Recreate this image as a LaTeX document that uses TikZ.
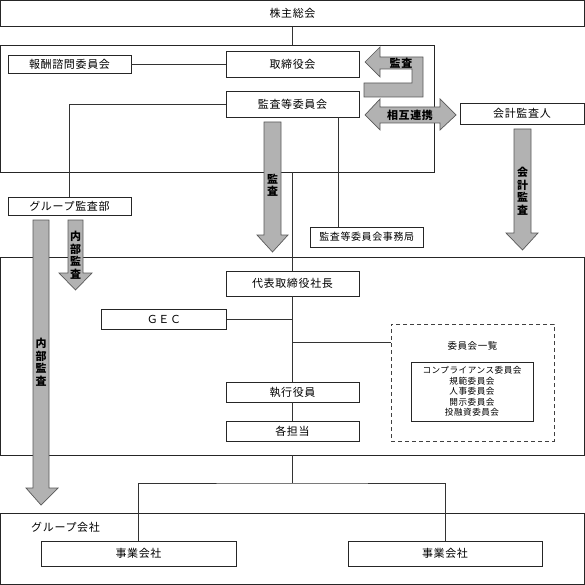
\documentclass[tikz,border=0pt]{standalone}
\usepackage{fontspec}
\setmainfont{Noto Sans CJK JP}[LetterSpace=6]
\usetikzlibrary{calc}
\tikzset{
  box/.style={draw=black!85, line width=0.8pt, fill=white, inner sep=0pt, font=\fontsize{11}{13}\selectfont},
  frame/.style={draw=black!85, line width=0.8pt, inner sep=0pt},
  dframe/.style={draw=black!75, line width=0.8pt, inner sep=0pt, dash pattern=on 4pt off 3pt},
  conn/.style={draw=black!80, line width=0.7pt},
  garrow/.style={fill=black!30, draw=black!65, line width=0.7pt, line join=miter},
  alabel/.style={font=\fontsize{11}{12.5}\selectfont\bfseries, align=center, inner sep=0pt},
  plain/.style={inner sep=0pt},
}
\begin{document}
\begin{tikzpicture}[x=1pt,y=-1pt]
\useasboundingbox (0,0) rectangle (585,585);
% frames
\node[frame, minimum width=433.5pt, minimum height=126.5pt] (board) at (217.25,108.75) {};
\node[frame, minimum width=584pt, minimum height=198pt] (exec) at (292.5,356) {};
\node[frame, minimum width=584pt, minimum height=71.5pt] (grp) at (292.5,548.75) {};
\node[dframe, minimum width=163pt, minimum height=117pt] (dash) at (472.5,382.5) {};
% boxes
\node[box, minimum width=584pt, minimum height=26pt] (kabu) at (292.5,13.5) {株主総会};
\node[box, minimum width=123pt, minimum height=18pt] (hoshu) at (69.5,64) {報酬諮問委員会};
\node[box, minimum width=133pt, minimum height=26pt] (tori) at (292.5,64) {取締役会};
\node[box, minimum width=133pt, minimum height=26pt] (kansa) at (292.5,104) {監査等委員会};
\node[box, minimum width=123pt, minimum height=18pt] (gkb) at (69.5,206) {グループ監査部};
\node[box, minimum width=113.5pt, minimum height=20pt, font=\fontsize{10}{12}\selectfont] (jim) at (366.75,237) {監査等委員会事務局};
\node[box, minimum width=124pt, minimum height=21pt] (kaikei) at (522,113.5) {会計監査人};
\node[box, minimum width=133pt, minimum height=25pt] (daihyo) at (292.5,283.5) {代表取締役社長};
\node[box, minimum width=125pt, minimum height=20pt] (gec) at (164,319) {ＧＥＣ};
\node[plain, font=\fontsize{9.5}{11}\selectfont] (ichiran) at (472.5,346) {委員会一覧};
\node[box, minimum width=122pt, minimum height=59pt, align=center, font=\fontsize{8.6}{10.5}\selectfont] (list) at (472,391.5) {コンプライアンス委員会\\規範委員会\\人事委員会\\開示委員会\\投融資委員会};
\node[box, minimum width=133pt, minimum height=20pt] (shikko) at (292.5,392) {執行役員};
\node[box, minimum width=133pt, minimum height=20pt] (tanto) at (292.5,431) {各担当};
\node[plain, anchor=west, font=\fontsize{11}{13}\selectfont] (grplbl) at (31,527) {グループ会社};
\node[box, minimum width=195pt, minimum height=25pt] (jig1) at (138.5,553.5) {事業会社};
\node[box, minimum width=194pt, minimum height=25pt] (jig2) at (445,553.5) {事業会社};
% connectors
\coordinate (jx) at (338,0);
\coordinate (ly) at (0,342);
\coordinate (bj) at (292.5,483);
\draw[conn] (kabu.south) -- (board.north -| kabu.south);
\draw[conn] (hoshu.east) -- (tori.west);
\draw[conn] (kansa.west) -| (gkb.north);
\draw[conn] (kansa.south -| jx) -- (jim.north -| jx);
\draw[conn] (board.south -| kabu.south) -- (daihyo.north);
\draw[conn] (daihyo.south) -- (shikko.north);
\draw[conn] (gec.east) -- (gec.east -| daihyo.south);
\draw[conn] (daihyo.south |- ly) -- (dash.west |- ly);
\draw[conn] (shikko.south) -- (tanto.north);
\draw[conn] (exec.south) -- (bj);
\draw[conn] (jig1.north) |- (bj) -| (jig2.north);
% gray arrows
\draw[garrow] (365,62) -- (380,47) -- (380,57) -- (423,57) -- (423,97) -- (364,97) -- (364,83) -- (412,83) -- (412,69) -- (380,69) -- (380,77) -- cycle;
\node[alabel] (l1) at (401,63) {監査};
\draw[garrow] (365,115) -- (380,99) -- (380,107) -- (440,107) -- (440,99) -- (456,115) -- (440,130) -- (440,123) -- (380,123) -- (380,130) -- cycle;
\node[alabel] (l2) at (410,115) {相互連携};
\draw[garrow] (264,122) -- (281,122) -- (281,235) -- (288,235) -- (272.5,252) -- (257,235) -- (264,235) -- cycle;
\node[alabel] (l3) at (272.5,185) {監\\査};
\draw[garrow] (514,129) -- (531,129) -- (531,233) -- (538,233) -- (522.5,250) -- (506,233) -- (514,233) -- cycle;
\node[alabel] (l4) at (522.5,191) {会\\計\\監\\査};
\draw[garrow] (68,220) -- (83,220) -- (83,273) -- (92,273) -- (75.5,290) -- (59,273) -- (68,273) -- cycle;
\node[alabel] (l5) at (75.5,255) {内\\部\\監\\査};
\draw[garrow] (33,220) -- (49,220) -- (49,488) -- (58,488) -- (41,505) -- (26,488) -- (33,488) -- cycle;
\node[alabel] (l6) at (41,362) {内\\部\\監\\査};
\end{tikzpicture}
\end{document}
